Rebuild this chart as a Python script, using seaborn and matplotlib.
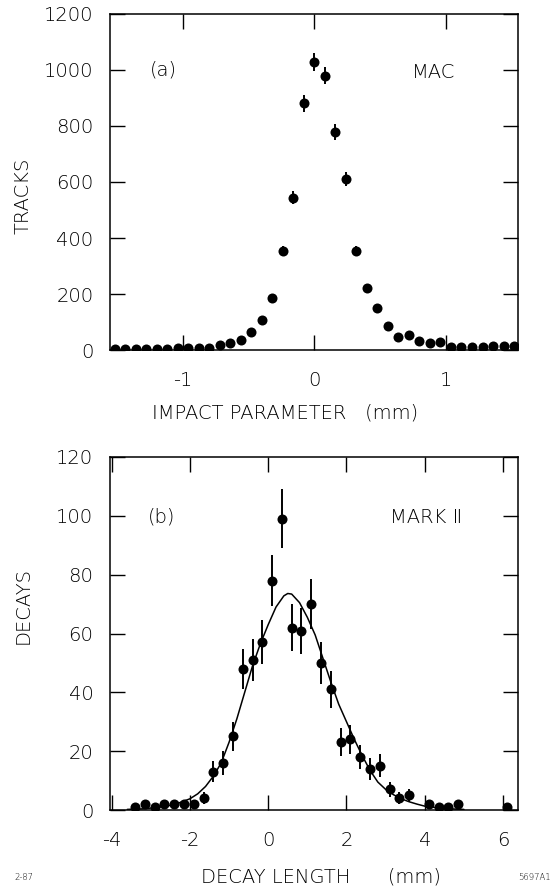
import matplotlib
matplotlib.use("Agg")
import matplotlib.pyplot as plt
import numpy as np
import pandas as pd
import seaborn as sns

# ---------------- data (a) MAC impact parameter ----------------
x_a = [-1.52, -1.44, -1.36, -1.28, -1.20, -1.12, -1.04, -0.96, -0.88, -0.80,
       -0.72, -0.64, -0.56, -0.48, -0.40, -0.32, -0.24, -0.16, -0.08, 0.00,
       0.08, 0.16, 0.24, 0.32, 0.40, 0.48, 0.56, 0.64, 0.72, 0.80,
       0.88, 0.96, 1.04, 1.12, 1.20, 1.28, 1.36, 1.44, 1.52]
y_a = [3, 3, 2, 3, 4, 4, 6, 6, 6, 8,
       19, 26, 34, 63, 108, 187, 354, 544, 881, 1027,
       980, 778, 612, 354, 222, 150, 85, 47, 54, 33,
       25, 28, 10, 12, 12, 12, 13, 13, 13]
err_a = [2, 2, 1, 2, 2, 2, 2, 2, 2, 3,
         4, 5, 6, 8, 10, 14, 19, 23, 30, 32,
         31, 28, 25, 19, 15, 12, 9, 7, 7, 6,
         5, 5, 3, 3, 3, 3, 4, 4, 4]

# ---------------- data (b) MARK II decay length ----------------
x_b = [-3.40, -3.15, -2.90, -2.65, -2.40, -2.15, -1.90, -1.65, -1.40, -1.15,
       -0.90, -0.65, -0.40, -0.15, 0.10, 0.35, 0.60, 0.85, 1.10, 1.35,
       1.60, 1.85, 2.10, 2.35, 2.60, 2.85, 3.10, 3.35, 3.60, 4.10,
       4.35, 4.60, 4.85, 6.10]
y_b = [1, 2, 1, 2, 2, 2, 2, 4, 13, 16,
       25, 48, 51, 57, 78, 99, 62, 61, 70, 50,
       41, 23, 24, 18, 14, 15, 7, 4, 5, 2,
       1, 1, 2, 1]
err_b = [1.0, 1.4, 1.0, 1.4, 1.4, 1.4, 1.4, 2.0, 3.6, 4.0,
         5.0, 6.9, 7.1, 7.5, 8.8, 10.0, 7.9, 7.8, 8.4, 7.1,
         6.4, 4.8, 4.9, 4.2, 3.7, 3.9, 2.6, 2.0, 2.2, 1.4,
         1.0, 1.0, 1.4, 1.0]

# fitted curve
fit_x = [-3.6, -3.2, -2.8, -2.4, -2.0, -1.8, -1.6, -1.4, -1.2, -1.0,
         -0.8, -0.6, -0.4, -0.2, 0.0, 0.2, 0.4, 0.5, 0.6, 0.8,
         1.0, 1.2, 1.4, 1.6, 1.8, 2.0, 2.2, 2.4, 2.6, 2.8,
         3.0, 3.2, 3.4, 3.6, 3.8, 4.0, 4.4, 4.8, 5.0]
fit_y = [0.2, 0.4, 0.9, 1.8, 3.8, 5.5, 8.0, 11.5, 16.0, 23.0,
         31.0, 40.0, 49.0, 56.5, 63.0, 69.0, 72.8, 73.6, 73.4, 70.5,
         65.5, 59.5, 51.5, 43.5, 36.0, 30.0, 24.0, 18.5, 13.5, 9.5,
         7.0, 5.2, 3.8, 2.8, 2.0, 1.3, 0.6, 0.3, 0.2]

ticks_a_x = [-1, 0, 1]
ticks_a_y = [0, 200, 400, 600, 800, 1000, 1200]
ticks_b_x = [-4, -2, 0, 2, 4, 6]
ticks_b_y = [0, 20, 40, 60, 80, 100, 120]

sns.set_theme(style="ticks")
plt.rcParams["font.family"] = ["DejaVu Sans"]
plt.rcParams["font.weight"] = "light"
plt.rcParams["axes.labelweight"] = "light"
plt.rcParams["axes.unicode_minus"] = False
for k in ("text.color", "axes.labelcolor", "xtick.color", "ytick.color",
          "axes.edgecolor"):
    plt.rcParams[k] = "black"

W, H = 552, 891
fig = plt.figure(figsize=(W / 100, H / 100), dpi=100)
axA = fig.add_axes([110 / W, 1 - 350 / H, 408 / W, 336 / H])
axB = fig.add_axes([110 / W, 1 - 810 / H, 408 / W, 353 / H])

dfA = pd.DataFrame({"x": x_a, "y": y_a, "e": err_a})
dfB = pd.DataFrame({"x": x_b, "y": y_b, "e": err_b})
dfF = pd.DataFrame({"x": fit_x, "y": fit_y})

tfs = 14
for ax in (axA, axB):
    for s in ax.spines.values():
        s.set_color("black")
        s.set_linewidth(1.1)
    ax.set_facecolor("white")

# panel (a)
axA.errorbar(dfA["x"], dfA["y"], yerr=dfA["e"], fmt="none", ecolor="black",
             elinewidth=1.4, capsize=0, zorder=2)
sns.scatterplot(data=dfA, x="x", y="y", ax=axA, color="black", s=52,
                linewidth=0, zorder=3)
axA.set_xlim(-1.555, 1.55)
axA.set_ylim(0, 1200)
axA.set_xticks(ticks_a_x)
axA.set_yticks(ticks_a_y)
axA.set_xlabel("IMPACT PARAMETER   (mm)", fontsize=tfs, color="black",
               fontweight="light")
axA.set_ylabel("TRACKS", fontsize=tfs, color="black", fontweight="light")
axA.xaxis.set_label_coords(0.43, -0.16)
axA.yaxis.set_label_coords(-0.19, 0.46)
axA.text(0.098, 0.833, "(a)", transform=axA.transAxes, fontsize=tfs,
         ha="left", va="center", color="black")
axA.text(0.74, 0.827, "MAC", transform=axA.transAxes, fontsize=tfs,
         ha="left", va="center", color="black")

# panel (b)
axB.errorbar(dfB["x"], dfB["y"], yerr=dfB["e"], fmt="none", ecolor="black",
             elinewidth=1.4, capsize=0, zorder=2)
sns.lineplot(data=dfF, x="x", y="y", ax=axB, color="black", linewidth=1.1,
             sort=False, zorder=2)
sns.scatterplot(data=dfB, x="x", y="y", ax=axB, color="black", s=52,
                linewidth=0, zorder=3)
axB.set_xlim(-4.04, 6.38)
axB.set_ylim(0, 120)
axB.set_xticks(ticks_b_x)
axB.set_yticks(ticks_b_y)
axB.set_xlabel("DECAY LENGTH      (mm)", fontsize=tfs, color="black",
               fontweight="light")
axB.set_ylabel("DECAYS", fontsize=tfs, color="black", fontweight="light")
axB.xaxis.set_label_coords(0.518, -0.164)
axB.yaxis.set_label_coords(-0.19, 0.58)
axB.text(0.093, 0.83, "(b)", transform=axB.transAxes, fontsize=tfs,
         ha="left", va="center", color="black")
axB.text(0.686, 0.83, "MARK \u2161", transform=axB.transAxes, fontsize=tfs,
         ha="left", va="center", color="black")

for ax in (axA, axB):
    ax.tick_params(axis="both", direction="in", length=10.5, width=1.0,
                   top=True, right=True, colors="black", labelsize=tfs)
    ax.tick_params(axis="x", pad=15)
    ax.tick_params(axis="y", pad=12)

fig.text(14 / W, 1 - 878 / H, "2-87", fontsize=6, ha="left", va="center",
         color="black")
fig.text(0.998, 1 - 878 / H, "5697A1", fontsize=6, ha="right", va="center",
         color="black")

fig.savefig("out.png", dpi=100, facecolor="white")
